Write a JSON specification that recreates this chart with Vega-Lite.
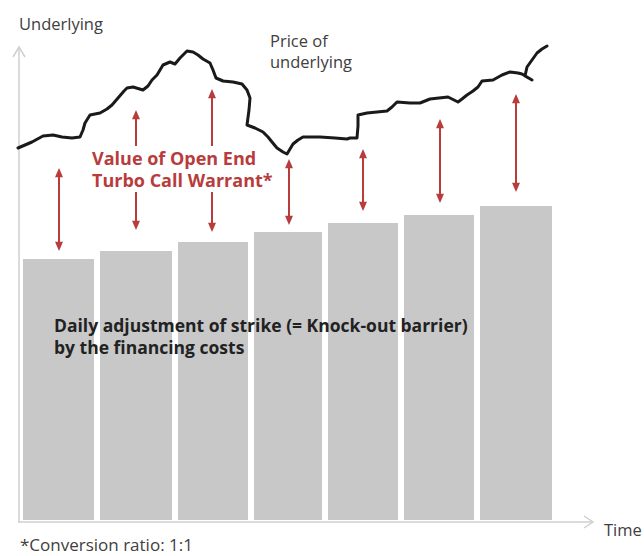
{
  "$schema": "https://vega.github.io/schema/vega-lite/v6.json",
  "width": 644,
  "height": 556,
  "padding": 0,
  "autosize": {"type": "fit", "contains": "padding"},
  "config": {"view": {"stroke": null}, "axis": {"disable": true}},
  "datasets": {
    "bars": [
      {"x": 23, "x2": 94, "top": 259, "bottom": 520},
      {"x": 100, "x2": 172, "top": 251, "bottom": 520},
      {"x": 178, "x2": 248, "top": 242, "bottom": 520},
      {"x": 254, "x2": 322, "top": 232, "bottom": 520},
      {"x": 328, "x2": 398, "top": 223, "bottom": 520},
      {"x": 404, "x2": 474, "top": 215, "bottom": 520},
      {"x": 480, "x2": 552, "top": 206, "bottom": 520}
    ],
    "axes": [
      {"g": "v", "o": 1, "x": 19, "y": 522},
      {"g": "v", "o": 2, "x": 19, "y": 47},
      {"g": "vh", "o": 1, "x": 13, "y": 57},
      {"g": "vh", "o": 2, "x": 19, "y": 47},
      {"g": "vh", "o": 3, "x": 25, "y": 57},
      {"g": "h", "o": 1, "x": 18, "y": 522},
      {"g": "h", "o": 2, "x": 593, "y": 522},
      {"g": "hh", "o": 1, "x": 584, "y": 516},
      {"g": "hh", "o": 2, "x": 593, "y": 522},
      {"g": "hh", "o": 3, "x": 584, "y": 528}
    ],
    "price": [
      {"o": 1, "x": 18, "y": 148}, {"o": 2, "x": 25, "y": 145}, {"o": 3, "x": 32, "y": 142},
      {"o": 4, "x": 43, "y": 136}, {"o": 5, "x": 53, "y": 135}, {"o": 6, "x": 62, "y": 137},
      {"o": 7, "x": 72, "y": 138}, {"o": 8, "x": 80, "y": 137}, {"o": 9, "x": 83, "y": 130},
      {"o": 10, "x": 85, "y": 123}, {"o": 11, "x": 90, "y": 115}, {"o": 12, "x": 100, "y": 113},
      {"o": 13, "x": 107, "y": 109}, {"o": 14, "x": 112, "y": 105}, {"o": 15, "x": 118, "y": 98},
      {"o": 16, "x": 124, "y": 91}, {"o": 17, "x": 127, "y": 88}, {"o": 18, "x": 133, "y": 87},
      {"o": 19, "x": 143, "y": 90}, {"o": 20, "x": 148, "y": 86}, {"o": 21, "x": 152, "y": 80},
      {"o": 22, "x": 157, "y": 75}, {"o": 23, "x": 163, "y": 65}, {"o": 24, "x": 170, "y": 62},
      {"o": 25, "x": 175, "y": 64}, {"o": 26, "x": 180, "y": 58}, {"o": 27, "x": 187, "y": 51},
      {"o": 28, "x": 193, "y": 52}, {"o": 29, "x": 198, "y": 55}, {"o": 30, "x": 203, "y": 59},
      {"o": 31, "x": 210, "y": 63}, {"o": 32, "x": 213, "y": 70}, {"o": 33, "x": 216, "y": 78},
      {"o": 34, "x": 223, "y": 81}, {"o": 35, "x": 233, "y": 82}, {"o": 36, "x": 242, "y": 84},
      {"o": 37, "x": 247, "y": 90}, {"o": 38, "x": 250, "y": 98}, {"o": 39, "x": 249, "y": 110},
      {"o": 40, "x": 247, "y": 125}, {"o": 41, "x": 255, "y": 128}, {"o": 42, "x": 263, "y": 132},
      {"o": 43, "x": 268, "y": 137}, {"o": 44, "x": 272, "y": 142}, {"o": 45, "x": 277, "y": 148},
      {"o": 46, "x": 283, "y": 152}, {"o": 47, "x": 287, "y": 154}, {"o": 48, "x": 290, "y": 149},
      {"o": 49, "x": 293, "y": 144}, {"o": 50, "x": 298, "y": 140}, {"o": 51, "x": 303, "y": 137},
      {"o": 52, "x": 320, "y": 137}, {"o": 53, "x": 335, "y": 138}, {"o": 54, "x": 347, "y": 139},
      {"o": 55, "x": 350, "y": 138}, {"o": 56, "x": 357, "y": 138}, {"o": 57, "x": 358, "y": 126},
      {"o": 58, "x": 358, "y": 115}, {"o": 59, "x": 367, "y": 113}, {"o": 60, "x": 387, "y": 111},
      {"o": 61, "x": 392, "y": 107}, {"o": 62, "x": 397, "y": 102}, {"o": 63, "x": 410, "y": 103},
      {"o": 64, "x": 420, "y": 103}, {"o": 65, "x": 430, "y": 99}, {"o": 66, "x": 448, "y": 97},
      {"o": 67, "x": 458, "y": 102}, {"o": 68, "x": 462, "y": 99}, {"o": 69, "x": 467, "y": 95},
      {"o": 70, "x": 473, "y": 91}, {"o": 71, "x": 478, "y": 87}, {"o": 72, "x": 482, "y": 81},
      {"o": 73, "x": 493, "y": 80}, {"o": 74, "x": 502, "y": 75}, {"o": 75, "x": 510, "y": 72},
      {"o": 76, "x": 518, "y": 73}, {"o": 77, "x": 522, "y": 74}, {"o": 78, "x": 532, "y": 80},
      {"o": 79, "x": 525, "y": 76}, {"o": 80, "x": 527, "y": 67}, {"o": 81, "x": 532, "y": 60},
      {"o": 82, "x": 537, "y": 53}, {"o": 83, "x": 542, "y": 49}, {"o": 84, "x": 547, "y": 46}
    ],
    "segments": [
      {"x": 59, "y": 170, "y2": 249},
      {"x": 136, "y": 112, "y2": 146},
      {"x": 136, "y": 192, "y2": 228},
      {"x": 212, "y": 91, "y2": 146},
      {"x": 212, "y": 192, "y2": 230},
      {"x": 289, "y": 161, "y2": 223},
      {"x": 363, "y": 151, "y2": 209},
      {"x": 440, "y": 121, "y2": 201},
      {"x": 516, "y": 96, "y2": 190}
    ],
    "arrows": [
      {"x": 59, "top": 168, "bottom": 251},
      {"x": 136, "top": 110, "bottom": 230},
      {"x": 212, "top": 89, "bottom": 232},
      {"x": 289, "top": 159, "bottom": 225},
      {"x": 363, "top": 149, "bottom": 211},
      {"x": 440, "top": 119, "bottom": 203},
      {"x": 516, "top": 94, "bottom": 192}
    ],
    "grayText": [
      {"t": "Underlying", "x": 19, "y": 30},
      {"t": "Price of", "x": 270, "y": 47},
      {"t": "underlying", "x": 270, "y": 68},
      {"t": "Time", "x": 604, "y": 536}
    ],
    "noteText": [
      {"t": "*Conversion ratio: 1:1", "x": 20, "y": 551}
    ],
    "redText": [
      {"t": "Value of Open End", "x": 92, "y": 165},
      {"t": "Turbo Call Warrant*", "x": 92, "y": 187}
    ],
    "boldText": [
      {"t": "Daily adjustment of strike (= Knock-out barrier)", "x": 54, "y": 332},
      {"t": "by the financing costs", "x": 54, "y": 354}
    ]
  },
  "layer": [
    {
      "data": {"name": "bars"},
      "mark": {"type": "rect", "color": "#c8c8c8"},
      "encoding": {
        "x": {"field": "x", "type": "quantitative", "scale": {"domain": [0, 644], "nice": false, "zero": false}},
        "x2": {"field": "x2"},
        "y": {"field": "top", "type": "quantitative", "scale": {"domain": [556, 0], "nice": false, "zero": false}},
        "y2": {"field": "bottom"}
      }
    },
    {
      "data": {"name": "axes"},
      "mark": {"type": "line", "color": "#cfcfcf", "strokeWidth": 1.5},
      "encoding": {
        "x": {"field": "x", "type": "quantitative"},
        "y": {"field": "y", "type": "quantitative"},
        "detail": {"field": "g"},
        "order": {"field": "o"}
      }
    },
    {
      "data": {"name": "price"},
      "mark": {"type": "line", "color": "#1a1a1a", "strokeWidth": 3, "strokeJoin": "round", "strokeCap": "round"},
      "encoding": {
        "x": {"field": "x", "type": "quantitative"},
        "y": {"field": "y", "type": "quantitative"},
        "order": {"field": "o"}
      }
    },
    {
      "data": {"name": "segments"},
      "mark": {"type": "rule", "color": "#b83c3c", "strokeWidth": 2},
      "encoding": {
        "x": {"field": "x", "type": "quantitative"},
        "y": {"field": "y", "type": "quantitative"},
        "y2": {"field": "y2"}
      }
    },
    {
      "data": {"name": "arrows"},
      "mark": {"type": "point", "filled": true, "color": "#b83c3c", "opacity": 1, "shape": "M0,0L-1,2.3L1,2.3Z", "size": 64},
      "encoding": {
        "x": {"field": "x", "type": "quantitative"},
        "y": {"field": "top", "type": "quantitative"}
      }
    },
    {
      "data": {"name": "arrows"},
      "mark": {"type": "point", "filled": true, "color": "#b83c3c", "opacity": 1, "shape": "M0,0L-1,-2.3L1,-2.3Z", "size": 64},
      "encoding": {
        "x": {"field": "x", "type": "quantitative"},
        "y": {"field": "bottom", "type": "quantitative"}
      }
    },
    {
      "data": {"name": "grayText"},
      "mark": {"type": "text", "align": "left", "baseline": "alphabetic", "font": "Open Sans", "fontSize": 16.5, "color": "#404040"},
      "encoding": {
        "x": {"field": "x", "type": "quantitative"},
        "y": {"field": "y", "type": "quantitative"},
        "text": {"field": "t"}
      }
    },
    {
      "data": {"name": "noteText"},
      "mark": {"type": "text", "align": "left", "baseline": "alphabetic", "font": "Open Sans", "fontSize": 17, "color": "#404040"},
      "encoding": {
        "x": {"field": "x", "type": "quantitative"},
        "y": {"field": "y", "type": "quantitative"},
        "text": {"field": "t"}
      }
    },
    {
      "data": {"name": "redText"},
      "mark": {"type": "text", "align": "left", "baseline": "alphabetic", "font": "Open Sans", "fontSize": 18, "fontWeight": "bold", "color": "#b83c3c"},
      "encoding": {
        "x": {"field": "x", "type": "quantitative"},
        "y": {"field": "y", "type": "quantitative"},
        "text": {"field": "t"}
      }
    },
    {
      "data": {"name": "boldText"},
      "mark": {"type": "text", "align": "left", "baseline": "alphabetic", "font": "Open Sans", "fontSize": 17.5, "fontWeight": "bold", "color": "#222222"},
      "encoding": {
        "x": {"field": "x", "type": "quantitative"},
        "y": {"field": "y", "type": "quantitative"},
        "text": {"field": "t"}
      }
    }
  ]
}
